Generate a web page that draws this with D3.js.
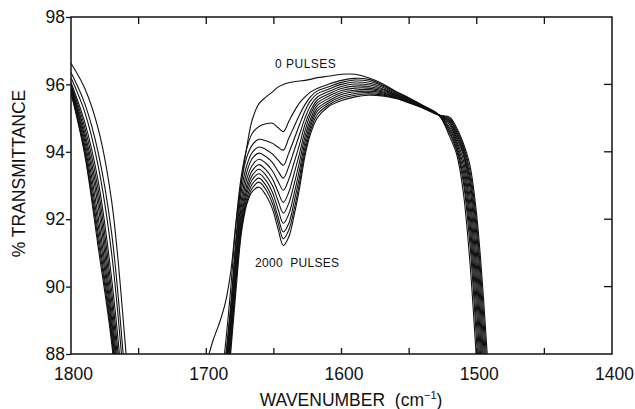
<!DOCTYPE html>
<html>
<head>
<meta charset="utf-8">
<title>% Transmittance vs wavenumber</title>
<script src="https://d3js.org/d3.v7.min.js"></script>
<style>
  body { margin: 0; background: #fff; }
  text { font-family: "Liberation Sans", Arial, sans-serif; fill: #111; }
</style>
</head>
<body>
<script>
const w = 635, h = 409;

// axis ticks
const yTicks = [88, 90, 92, 94, 96, 98];
const xTicks = [1800, 1700, 1600, 1500, 1400];
const innerTicks = [1750, 1700, 1650, 1600, 1550, 1500, 1450];
const rightTicks = [90, 92, 94, 96];

// left band (1800 -> 1750 cm-1), one row per spectrum, 0 pulses first
const leftWavenumbers = [1800, 1790, 1780, 1770, 1760, 1750];
const leftBand = [
  [96.63, 95.9, 94.7, 92.55, 88.35, 83],
  [96.35, 95.45, 94.0, 91.6, 87.3, 82],
  [96.2, 95.2, 93.6, 91.0, 86.7, 81],
  [96.06, 94.9, 93.15, 90.25, 86.1, 80.5],
  [96.0, 94.75, 92.9, 89.9, 85.7, 80.5],
  [95.96, 94.6, 92.65, 89.6, 85.4, 80.5],
  [95.92, 94.47, 92.4, 89.3, 85.1, 80.5],
  [95.88, 94.35, 92.1, 89.05, 84.8, 80.5],
  [95.84, 94.22, 91.85, 88.85, 84.5, 80.5],
  [95.81, 94.1, 91.6, 88.65, 84.3, 80.5],
  [95.78, 94.0, 91.4, 88.5, 84.1, 80.5],
  [95.75, 93.95, 91.2, 88.35, 84.0, 80.5]
];

// main window (1700 -> 1490 cm-1)
const bandWavenumbers = [1700, 1695, 1690, 1686, 1682, 1678, 1674, 1670, 1666, 1661,
  1656, 1651, 1647, 1643, 1639, 1635, 1631, 1627, 1623, 1618,
  1610, 1600, 1590, 1580, 1570, 1560, 1550, 1540, 1528,
  1520, 1515, 1510, 1505, 1500, 1495, 1490];
const bandValues = [
  [87.7, 88.4, 88.95, 89.5, 90.4, 91.9, 93.1, 94.15, 94.95, 95.43, 95.62, 95.78, 95.92, 96.0, 96.05, 96.08, 96.1, 96.12, 96.15, 96.2, 96.24, 96.3, 96.3, 96.2, 96.03, 95.8, 95.6, 95.38, 95.09, 94.45, 93.95, 92.82, 90.7, 87.7, 84.6, 81.5],
  [83, 85, 86.8, 88.2, 89.9, 91.9, 93.3, 94.1, 94.55, 94.75, 94.83, 94.85, 94.72, 94.6, 94.9, 95.2, 95.45, 95.63, 95.77, 95.88, 96.0, 96.12, 96.18, 96.15, 95.99, 95.78, 95.59, 95.37, 95.09, 94.54, 94.05, 93.12, 91.24, 88.32, 85.2, 82.1],
  [83, 84.5, 86.3, 87.8, 89.4, 91.45, 93.1, 93.85, 94.2, 94.37, 94.33, 94.25, 94.14, 94.05, 94.4, 94.75, 95.1, 95.4, 95.63, 95.8, 95.92, 96.06, 96.13, 96.1, 95.96, 95.76, 95.57, 95.36, 95.09, 94.6, 94.12, 93.27, 91.58, 88.76, 85.62, 82.5],
  [82.8, 84.3, 86, 87.6, 89.3, 91.25, 92.85, 93.6, 93.98, 94.14, 94.07, 93.93, 93.76, 93.6, 93.96, 94.38, 94.81, 95.21, 95.51, 95.72, 95.85, 96.0, 96.07, 96.04, 95.92, 95.73, 95.56, 95.36, 95.09, 94.67, 94.2, 93.45, 91.88, 89.27, 86.1, 83],
  [82.6, 84.1, 85.8, 87.4, 89.1, 91.0, 92.6, 93.4, 93.8, 93.96, 93.86, 93.68, 93.43, 93.22, 93.56, 94.04, 94.52, 95.0, 95.36, 95.62, 95.78, 95.94, 96.01, 95.99, 95.88, 95.71, 95.54, 95.35, 95.09, 94.73, 94.27, 93.61, 92.14, 89.71, 86.55, 83.45],
  [82.4, 83.9, 85.6, 87.2, 88.95, 90.85, 92.4, 93.2, 93.6, 93.78, 93.66, 93.43, 93.13, 92.86, 93.18, 93.69, 94.22, 94.81, 95.21, 95.53, 95.71, 95.88, 95.95, 95.94, 95.85, 95.69, 95.53, 95.34, 95.09, 94.8, 94.34, 93.77, 92.4, 90.11, 87.0, 83.9],
  [82.2, 83.7, 85.4, 87.0, 88.8, 90.7, 92.2, 93.02, 93.44, 93.62, 93.47, 93.19, 92.82, 92.5, 92.8, 93.36, 93.95, 94.62, 95.1, 95.45, 95.64, 95.82, 95.89, 95.89, 95.81, 95.67, 95.51, 95.33, 95.09, 94.86, 94.41, 93.92, 92.67, 90.48, 87.46, 84.35],
  [82, 83.5, 85.2, 86.8, 88.65, 90.55, 92.05, 92.88, 93.3, 93.48, 93.31, 92.99, 92.56, 92.18, 92.47, 93.04, 93.71, 94.45, 94.96, 95.37, 95.57, 95.76, 95.83, 95.85, 95.78, 95.65, 95.5, 95.33, 95.09, 94.89, 94.47, 93.98, 92.93, 90.86, 87.88, 84.78],
  [81.8, 83.3, 85.0, 86.6, 88.5, 90.4, 91.9, 92.75, 93.17, 93.35, 93.16, 92.79, 92.31, 91.88, 92.15, 92.76, 93.48, 94.29, 94.84, 95.28, 95.5, 95.7, 95.78, 95.8, 95.75, 95.63, 95.49, 95.32, 95.09, 94.93, 94.54, 94.05, 93.12, 91.24, 88.32, 85.2],
  [81.6, 83.1, 84.8, 86.4, 88.35, 90.25, 91.8, 92.62, 93.04, 93.22, 93.01, 92.61, 92.08, 91.62, 91.87, 92.52, 93.27, 94.13, 94.73, 95.2, 95.44, 95.64, 95.73, 95.76, 95.72, 95.62, 95.48, 95.31, 95.09, 94.96, 94.6, 94.12, 93.27, 91.58, 88.76, 85.62],
  [81.4, 82.9, 84.6, 86.3, 88.2, 90.1, 91.7, 92.52, 92.92, 93.1, 92.88, 92.46, 91.91, 91.42, 91.68, 92.3, 93.08, 94.0, 94.62, 95.1, 95.38, 95.58, 95.68, 95.72, 95.69, 95.6, 95.46, 95.31, 95.09, 94.99, 94.66, 94.19, 93.43, 91.84, 89.21, 86.04],
  [81.2, 82.7, 84.4, 86.2, 88.0, 89.9, 91.6, 92.45, 92.82, 92.95, 92.72, 92.3, 91.72, 91.22, 91.47, 92.12, 92.92, 93.88, 94.52, 95.0, 95.33, 95.52, 95.63, 95.68, 95.66, 95.58, 95.45, 95.3, 95.09, 95.03, 94.72, 94.26, 93.59, 92.1, 89.65, 86.5]
];

const x = d3.scaleLinear().domain([1800, 1400]).range([71, 612]);
const y = d3.scaleLinear().domain([88, 98]).range([354, 17]);

const svg = d3.select("body").append("svg")
  .attr("width", w)
  .attr("height", h);

svg.append("defs").append("clipPath")
  .attr("id", "plot")
  .append("rect")
  .attr("x", 71).attr("y", 17)
  .attr("width", 541).attr("height", 337);

const line = d3.line()
  .x(d => x(d[0]))
  .y(d => y(d[1]))
  .curve(d3.curveCatmullRom.alpha(0.5));

const curves = svg.append("g").attr("clip-path", "url(#plot)");

leftBand.forEach(vals => {
  curves.append("path")
    .attr("d", line(leftWavenumbers.map((wn, i) => [wn, vals[i]])))
    .attr("fill", "none")
    .attr("stroke", "#111")
    .attr("stroke-width", 1.1);
});

bandValues.forEach(vals => {
  curves.append("path")
    .attr("d", line(bandWavenumbers.map((wn, i) => [wn, vals[i]])))
    .attr("fill", "none")
    .attr("stroke", "#111")
    .attr("stroke-width", 1.1);
});

// frame
svg.append("rect")
  .attr("x", 71).attr("y", 17)
  .attr("width", 541).attr("height", 337)
  .attr("fill", "none")
  .attr("stroke", "#111")
  .attr("stroke-width", 1.5);

// left axis, ticks outside
const yAxis = svg.append("g")
  .attr("transform", "translate(71,0)")
  .call(d3.axisLeft(y).tickValues(yTicks).tickSize(5).tickPadding(1));
yAxis.select(".domain").remove();
yAxis.selectAll("line").attr("stroke", "#111").attr("stroke-width", 1.3);
yAxis.selectAll("text").style("font-size", "17.5px").attr("fill", "#111");

// bottom labels
const xAxis = svg.append("g")
  .attr("transform", "translate(2,354)")
  .call(d3.axisBottom(x).tickValues(xTicks).tickFormat(d3.format("d")).tickSize(0).tickPadding(14));
xAxis.select(".domain").remove();
xAxis.selectAll("text").style("font-size", "17.5px").attr("fill", "#111");

// inward ticks on top, bottom and right
svg.append("g").selectAll("line")
  .data(innerTicks)
  .join("line")
  .attr("x1", d => x(d)).attr("x2", d => x(d))
  .attr("y1", 17).attr("y2", 24)
  .attr("stroke", "#111").attr("stroke-width", 1.3);

svg.append("g").selectAll("line")
  .data(innerTicks)
  .join("line")
  .attr("x1", d => x(d)).attr("x2", d => x(d))
  .attr("y1", 354).attr("y2", 348)
  .attr("stroke", "#111").attr("stroke-width", 1.3);

svg.append("g").selectAll("line")
  .data(rightTicks)
  .join("line")
  .attr("x1", 612).attr("x2", 604)
  .attr("y1", d => y(d)).attr("y2", d => y(d))
  .attr("stroke", "#111").attr("stroke-width", 1.3);

// axis titles
svg.append("text")
  .attr("transform", "translate(19,173.5) rotate(-90)")
  .attr("text-anchor", "middle")
  .attr("dominant-baseline", "central")
  .style("font-size", "17.5px")
  .text("% TRANSMITTANCE");

const xTitle = svg.append("text")
  .attr("x", 351)
  .attr("y", 406)
  .attr("text-anchor", "middle")
  .style("font-size", "17.5px")
  .style("white-space", "pre");
xTitle.append("tspan").text("WAVENUMBER  (cm");
xTitle.append("tspan").attr("dy", -7).style("font-size", "11px").text("\u22121");
xTitle.append("tspan").attr("dy", 7).text(")");

// annotations
svg.append("text")
  .attr("x", 275).attr("y", 68)
  .style("font-size", "12px")
  .style("letter-spacing", "0.5px")
  .text("0 PULSES");

svg.append("text")
  .attr("x", 255).attr("y", 267)
  .style("font-size", "12px")
  .style("letter-spacing", "0.3px")
  .style("white-space", "pre")
  .text("2000  PULSES");
</script>
</body>
</html>
